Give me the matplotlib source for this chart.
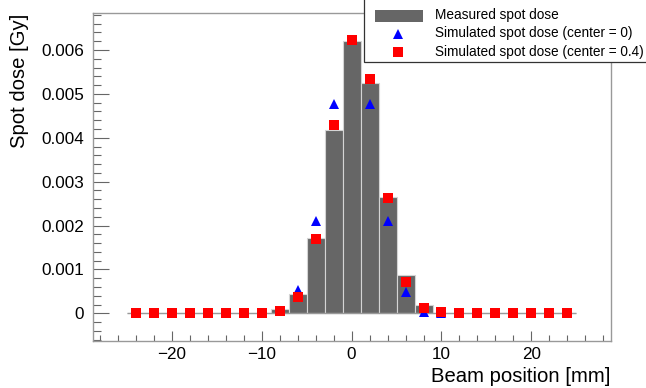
import matplotlib
matplotlib.use("Agg")
import matplotlib.pyplot as plt
import numpy as np
from matplotlib.ticker import MultipleLocator, FuncFormatter
from matplotlib.patches import Rectangle
from matplotlib.lines import Line2D

plt.rcParams['font.family'] = ['Liberation Sans', 'DejaVu Sans']

# ---- data (dose in Gy, position in mm) ----
positions = [-24, -22, -20, -18, -16, -14, -12, -10, -8, -6, -4, -2, 0,
             2, 4, 6, 8, 10, 12, 14, 16, 18, 20, 22, 24]
measured = [0, 0, 0, 0, 0, 0, 0, 0, 0.00010, 0.00044, 0.00171, 0.00418, 0.00621,
            0.00524, 0.00266, 0.00087, 0.00019, 0, 0, 0, 0, 0, 0, 0, 0]
sim_center0 = [0, 0, 0, 0, 0, 0, 0, 0, 0.00006, 0.00053, 0.00210, 0.00478, 0.00623,
               0.00478, 0.00210, 0.00049, 0.00003, 0, 0, 0, 0, 0, 0, 0, 0]
sim_center04 = [0, 0, 0, 0, 0, 0, 0, 0.00001, 0.00006, 0.00038, 0.00169, 0.00429, 0.00623,
                0.00534, 0.00262, 0.00072, 0.00012, 0.00002, 0, 0, 0, 0, 0, 0, 0]
bin_width = 2

label_measured = "Measured spot dose"
label_sim0 = "Simulated spot dose (center = 0)"
label_sim04 = "Simulated spot dose (center = 0.4)"

W, H = 646, 388
fig = plt.figure(figsize=(W / 100, H / 100), dpi=100)

def fx(x):
    return x / W

def fy(y):
    return 1 - y / H

ax_l, ax_r, ax_t, ax_b = 92.7, 610.5, 13.3, 341.0
ax = fig.add_axes([fx(ax_l), fy(ax_b), (ax_r - ax_l) / W, (ax_b - ax_t) / H])

bar_color = '#666666'
blue = '#0000ff'
red = '#ff0000'

ax.bar(positions, measured, width=bin_width, color=bar_color,
       edgecolor='#d4d4d4', linewidth=0.8, zorder=2)
edges_lo = positions[0] - bin_width / 2
edges_hi = positions[-1] + bin_width / 2
ax.hlines(0, edges_lo, edges_hi, color='#999999', linewidth=1.0, zorder=2.5)
ax.plot(positions, sim_center0, linestyle='none', marker='^', markersize=6.8,
        color=blue, markeredgewidth=0, zorder=3)
ax.plot(positions, sim_center04, linestyle='none', marker='s', markersize=6.6,
        color=red, markeredgewidth=0, zorder=4)

ax.set_xlim(-28.8, 28.8)
ax.set_ylim(-0.000631, 0.006837)

ax.xaxis.set_major_locator(MultipleLocator(10))
ax.xaxis.set_minor_locator(MultipleLocator(2))
ax.yaxis.set_major_locator(MultipleLocator(0.001))
ax.yaxis.set_minor_locator(MultipleLocator(0.0002))
ax.yaxis.set_major_formatter(FuncFormatter(lambda v, p: f"{round(v, 6):g}"))

tick_col = '#666666'
ax.tick_params(axis='both', which='both', direction='in', top=False, right=False,
               color=tick_col, width=0.8, labelsize=12.3, labelcolor='black')
ax.tick_params(axis='y', which='major', length=11.2, pad=6.3)
ax.tick_params(axis='y', which='minor', length=5.5)
ax.tick_params(axis='x', which='major', length=7.2, pad=4.3)
ax.tick_params(axis='x', which='minor', length=4.0)

for s in ax.spines.values():
    s.set_color('#999999')
    s.set_linewidth(1.0)

# axis titles (ROOT style: aligned to axis ends)
fig.text(fx(19.7), fy(13.3), "Spot dose [Gy]", rotation=90, ha='center', va='top',
         fontsize=14.6)
fig.text(fx(ax_r), fy(382.3), "Beam position [mm]", ha='right', va='baseline',
         fontsize=14.6)

# legend box (ROOT style, extends beyond the canvas)
frame = Rectangle((fx(364), fy(61.7)), (720 - 364) / W, (61.7 + 20) / H,
                  transform=fig.transFigure, facecolor='white', edgecolor='#333333',
                  linewidth=0.9, zorder=10, clip_on=False)
fig.add_artist(frame)

rows = [15.8, 33.8, 52.0]
baselines = [19.2, 37.4, 55.8]
fig.add_artist(Rectangle((fx(375), fy(rows[0] + 6)), 48 / W, 12 / H,
                         transform=fig.transFigure, facecolor=bar_color,
                         edgecolor='none', zorder=11))
fig.add_artist(Line2D([fx(398)], [fy(rows[1])], transform=fig.transFigure,
                      linestyle='none', marker='^', markersize=6.8, color=blue,
                      markeredgewidth=0, zorder=11))
fig.add_artist(Line2D([fx(398)], [fy(rows[2])], transform=fig.transFigure,
                      linestyle='none', marker='s', markersize=6.6, color=red,
                      markeredgewidth=0, zorder=11))
for lab, b in zip([label_measured, label_sim0, label_sim04], baselines):
    fig.text(fx(435), fy(b), lab, ha='left', va='baseline', fontsize=9.8, zorder=12)

fig.savefig("out.png", dpi=100)
